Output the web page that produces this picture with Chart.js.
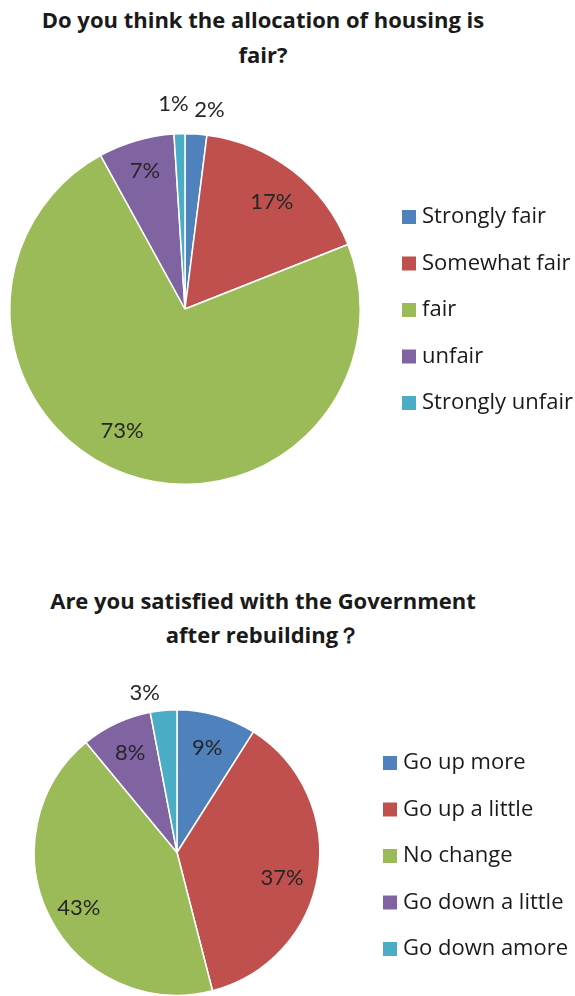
<!DOCTYPE html>
<html>
<head>
<meta charset="utf-8">
<script src="https://cdn.jsdelivr.net/npm/chart.js@4.4.1/dist/chart.umd.min.js"></script>
<style>
  html, body { margin: 0; padding: 0; background: #fff; }
  body { width: 575px; height: 996px; position: relative; overflow: hidden; }
  .title {
    position: absolute; left: 0; width: 526px; text-align: center;
    font-family: "Open Sans", Lato, sans-serif; font-weight: bold;
    font-size: 22px; color: #1a1a1a; white-space: nowrap;
  }
  #title1 { top: 2px; line-height: 35px; }
  #title2 { top: 583px; line-height: 34px; }
  .box { position: absolute; left: 0; width: 575px; }
  #box1 { top: 0; height: 500px; }
  #box2 { top: 670px; height: 326px; }
</style>
</head>
<body>
<div class="title" id="title1">Do you think the allocation of housing is<br>fair?</div>
<div class="title" id="title2">Are you satisfied with the Government<br>after rebuilding？</div>
<div class="box" id="box1"><canvas id="housingChart"></canvas></div>
<div class="box" id="box2"><canvas id="govChart"></canvas></div>
<script>
// Survey answers (percent of respondents)
const housingLabels = ['Strongly fair', 'Somewhat fair', 'fair', 'unfair', 'Strongly unfair'];
const housingValues = [2, 17, 73, 7, 1];

const govLabels = ['Go up more', 'Go up a little', 'No change', 'Go down a little', 'Go down amore'];
const govValues = [9, 37, 43, 8, 3];

const sliceColors = ['#4F81BD', '#C0504D', '#9BBB59', '#8064A2', '#4BACC6'];

const labelFont = '22px Lato, "Open Sans", sans-serif';
const legendFont = '22px "Open Sans", Lato, sans-serif';

// Percentage text on (or just outside) each slice
const sliceLabels = {
  id: 'sliceLabels',
  afterDatasetsDraw(chart, args, opts) {
    const ctx = chart.ctx;
    const meta = chart.getDatasetMeta(0);
    const values = chart.data.datasets[0].data;
    ctx.save();
    ctx.font = labelFont;
    ctx.fillStyle = '#262626';
    ctx.textAlign = 'center';
    ctx.textBaseline = 'middle';
    meta.data.forEach((arc, i) => {
      const p = arc.getProps(['x', 'y', 'startAngle', 'endAngle', 'outerRadius'], true);
      const mid = (p.startAngle + p.endAngle) / 2;
      const d = p.outerRadius * opts.radius[i];
      const nudge = opts.nudge[i] || [0, 0];
      ctx.fillText(values[i] + '%', p.x + Math.cos(mid) * d + nudge[0], p.y + Math.sin(mid) * d + nudge[1]);
    });
    ctx.restore();
  }
};

// Legend column to the right of the pie
const sideLegend = {
  id: 'sideLegend',
  afterDraw(chart, args, opts) {
    const ctx = chart.ctx;
    const colors = chart.data.datasets[0].backgroundColor;
    ctx.save();
    ctx.font = legendFont;
    ctx.textBaseline = 'middle';
    chart.data.labels.forEach((label, i) => {
      const y = opts.top + i * opts.step;
      ctx.fillStyle = colors[i];
      ctx.fillRect(opts.left, y - 7, 14, 14);
      ctx.fillStyle = '#1a1a1a';
      ctx.fillText(label, opts.left + 20, y);
    });
    ctx.restore();
  }
};

function makePie(canvasId, labels, values, padding, labelOpts, legendOpts) {
  return new Chart(document.getElementById(canvasId), {
    type: 'pie',
    data: {
      labels: labels,
      datasets: [{
        data: values,
        backgroundColor: sliceColors,
        borderColor: '#ffffff',
        borderWidth: 1.5
      }]
    },
    options: {
      responsive: true,
      maintainAspectRatio: false,
      animation: false,
      layout: { padding: padding },
      plugins: {
        legend: { display: false },
        tooltip: { enabled: false },
        sliceLabels: labelOpts,
        sideLegend: legendOpts
      }
    },
    plugins: [sliceLabels, sideLegend]
  });
}

makePie('housingChart', housingLabels, housingValues,
  { left: 9, right: 214, top: 133, bottom: 15 },
  { radius: [1.14, 0.79, 0.79, 0.82, 1.17], nudge: [[12, 0], [2, 2], [-16, -8], [0, 0], [-5, 0]] },
  { left: 402, top: 217, step: 46.5 });

makePie('govChart', govLabels, govValues,
  { left: 33.5, right: 254.5, top: 39, bottom: 0 },
  { radius: [0.76, 0.76, 0.78, 0.77, 1.14], nudge: [[0, 0], [-2, 8], [1, 5], [0, 0], [-17, 2]] },
  { left: 383, top: 93, step: 46.5 });
</script>
</body>
</html>
